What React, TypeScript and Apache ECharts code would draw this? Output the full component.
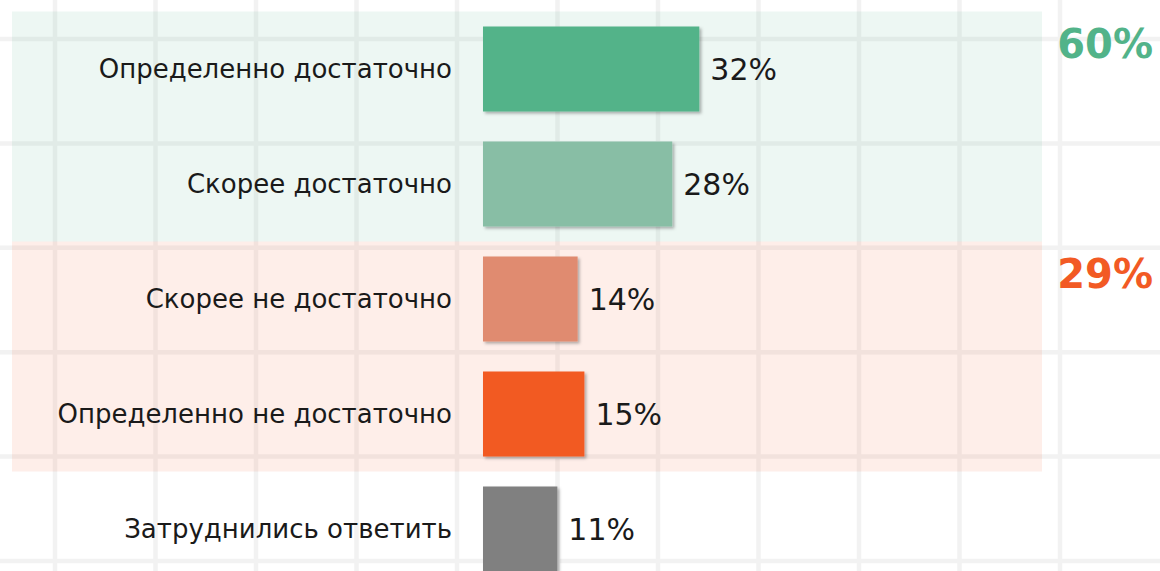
import React, { useEffect, useRef } from "react";
import * as echarts from "echarts";

const categories = [
  "Определенно достаточно",
  "Скорее достаточно",
  "Скорее не достаточно",
  "Определенно не достаточно",
  "Затруднились ответить",
];
const values = [32, 28, 14, 15, 11];
const barColors = ["#52b389", "#88bea5", "#e08b6f", "#f25a24", "#808080"];
const groups = [
  { from: 0, to: 1, color: "#52b389", band: "rgba(82,179,137,0.105)" },
  { from: 2, to: 3, color: "#f25a24", band: "rgba(242,90,36,0.1)" },
];

const W = 1160;
const H = 571;
const CH = 620;
const GRID_LEFT = 483;
const GRID_TOP = 11.5;
const ROW_H = 115;
const X_MAX = 100;
const GRID_W = 676;

export default function App() {
  const ref = useRef<HTMLDivElement>(null);
  useEffect(() => {
    if (!ref.current) return;
    document.body.style.overflow = "hidden";
    const chart = echarts.init(ref.current, null, { renderer: "svg" });

    const graphics: any[] = [];
    // background spreadsheet grid
    for (let i = 0; i < 11; i++) {
      const x = 55 + i * 100.5;
      graphics.push({
        type: "line",
        z: -20,
        shape: { x1: x, y1: 0, x2: x, y2: CH },
        style: { stroke: "#f2f2f2", lineWidth: 4.5 },
      });
    }
    for (let j = 0; j < 6; j++) {
      const y = 39 + j * 104.4;
      graphics.push({
        type: "line",
        z: -20,
        shape: { x1: 0, y1: y, x2: W, y2: y },
        style: { stroke: "#f2f2f2", lineWidth: 4.5 },
      });
    }
    groups.forEach((g) => {
      const y0 = GRID_TOP + g.from * ROW_H;
      const y1 = GRID_TOP + (g.to + 1) * ROW_H;
      graphics.push({
        type: "rect",
        z: -10,
        shape: { x: 12, y: y0, width: 1030, height: y1 - y0 },
        style: { fill: g.band },
      });
      let total = 0;
      for (let k = g.from; k <= g.to; k++) total += values[k];
      graphics.push({
        type: "text",
        z: 10,
        x: 1153,
        y: y0 + 32,
        style: {
          text: total + "%",
          fill: g.color,
          font: "bold 40px 'DejaVu Sans'",
          align: "right",
          verticalAlign: "middle",
        },
      });
    });

    chart.setOption({
      animation: false,
      grid: { left: GRID_LEFT, top: GRID_TOP, width: GRID_W, height: ROW_H * categories.length },
      xAxis: {
        type: "value",
        min: 0,
        max: X_MAX,
        show: false,
      },
      yAxis: {
        type: "category",
        data: categories,
        inverse: true,
        axisLine: { show: false },
        axisTick: { show: false },
        splitLine: { show: false },
        axisLabel: {
          margin: 31,
          color: "#1a1a1a",
          fontSize: 26,
          fontFamily: "DejaVu Sans",
        },
      },
      series: [
        {
          type: "bar",
          barWidth: 85,
          data: values.map((v, i) => ({
            value: v,
            itemStyle: {
              color: barColors[i],
              shadowColor: "rgba(0,0,0,0.3)",
              shadowBlur: 3,
              shadowOffsetX: 2,
              shadowOffsetY: 2,
            },
          })),
          label: {
            show: true,
            position: "right",
            distance: 11,
            formatter: "{c}%",
            color: "#1a1a1a",
            fontSize: 30,
            fontFamily: "DejaVu Sans",
          },
        },
      ],
      graphic: graphics,
    });
    return () => chart.dispose();
  }, []);
  return (
    <div
      ref={ref}
      style={{ position: "fixed", left: 0, top: 0, width: W, height: CH, background: "#fff" }}
    />
  );
}
